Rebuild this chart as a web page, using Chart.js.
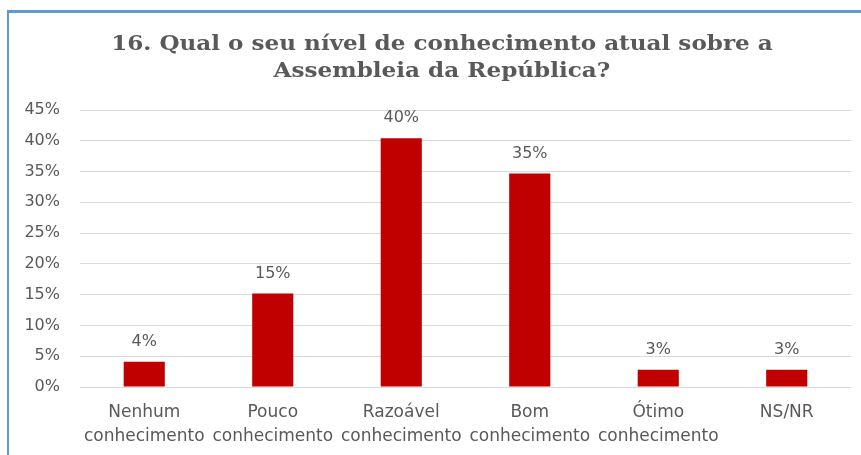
<!DOCTYPE html>
<html>
<head>
<meta charset="utf-8">
<script src="https://cdn.jsdelivr.net/npm/chart.js@4"></script>
<style>
  body { margin: 0; background: #fff; }
  #frame { position: absolute; left: 7px; top: 10px; width: 900px; height: 500px;
    border-left: 2px solid #5B9BD5; border-top: 3px solid #5B9BD5; }
  #wrap { position: absolute; left: 0; top: 0; width: 861px; height: 455px; }
</style>
</head>
<body>
<div id="frame"></div>
<div id="wrap"><canvas id="chartResults" width="861" height="455"></canvas></div>
<script>
'use strict';

var categories = [
  ['Nenhum', 'conhecimento'],
  ['Pouco', 'conhecimento'],
  ['Razoável', 'conhecimento'],
  ['Bom', 'conhecimento'],
  ['Ótimo', 'conhecimento'],
  ['NS/NR']
];
var values = [4.1, 15.2, 40.4, 34.7, 2.8, 2.8];
var labels = ['4%', '15%', '40%', '35%', '3%', '3%'];
var titleLines = ['16. Qual o seu nível de conhecimento atual sobre a', 'Assembleia da República?'];

var textFont = { family: 'DejaVu Sans', size: 16 };

// title drawn by hand so it can sit centred on the frame, not the canvas
var chartTitle = {
  id: 'chartTitle',
  beforeDraw: function(chart){
    var ctx = chart.ctx;
    ctx.save();
    ctx.font = 'bold 21px "DejaVu Serif"';
    ctx.fillStyle = '#595959';
    ctx.textAlign = 'center';
    ctx.textBaseline = 'alphabetic';
    // slightly wider, like the original's title face
    ctx.translate(442, 0);
    ctx.scale(1.1, 1);
    ctx.fillText(titleLines[0], 0, 50);
    ctx.fillText(titleLines[1], 0, 77);
    ctx.restore();
  }
};

// value labels above each bar
var barLabels = {
  id: 'barLabels',
  afterDatasetsDraw: function(chart){
    var ctx = chart.ctx;
    var meta = chart.getDatasetMeta(0);
    ctx.save();
    ctx.font = textFont.size + 'px ' + textFont.family;
    ctx.fillStyle = '#595959';
    ctx.textAlign = 'center';
    ctx.textBaseline = 'middle';
    meta.data.forEach(function(bar, i){
      ctx.fillText(labels[i], bar.x, bar.y - 20);
    });
    ctx.restore();
  }
};

var ctx = document.getElementById('chartResults').getContext('2d');
var chart = new Chart(ctx, {
  type: 'bar',
  data: {
    labels: categories,
    datasets: [{
      data: values,
      backgroundColor: '#C00000',
      categoryPercentage: 1,
      barPercentage: 0.32
    }]
  },
  options: {
    responsive: false,
    animation: false,
    layout: { padding: { left: 0, right: 10, top: 110, bottom: 11 } },
    plugins: {
      legend: { display: false },
      tooltip: { enabled: false },
      title: { display: false }
    },
    scales: {
      x: {
        grid: { display: false, drawTicks: false },
        border: { display: false },
        ticks: { color: '#595959', font: { family: textFont.family, size: 17, lineHeight: 1.45 },
          maxRotation: 0, autoSkip: false, padding: 13 },
        afterFit: function(s){ s.height = 57; }
      },
      y: {
        min: 0, max: 45,
        grid: { color: '#D9D9D9', drawTicks: false },
        border: { display: false },
        ticks: { stepSize: 5, color: '#595959', font: textFont, padding: 20,
          callback: function(v){ return v + '%'; } },
        afterFit: function(s){ s.width = 80; }
      }
    }
  },
  plugins: [chartTitle, barLabels]
});
</script>
</body>
</html>
